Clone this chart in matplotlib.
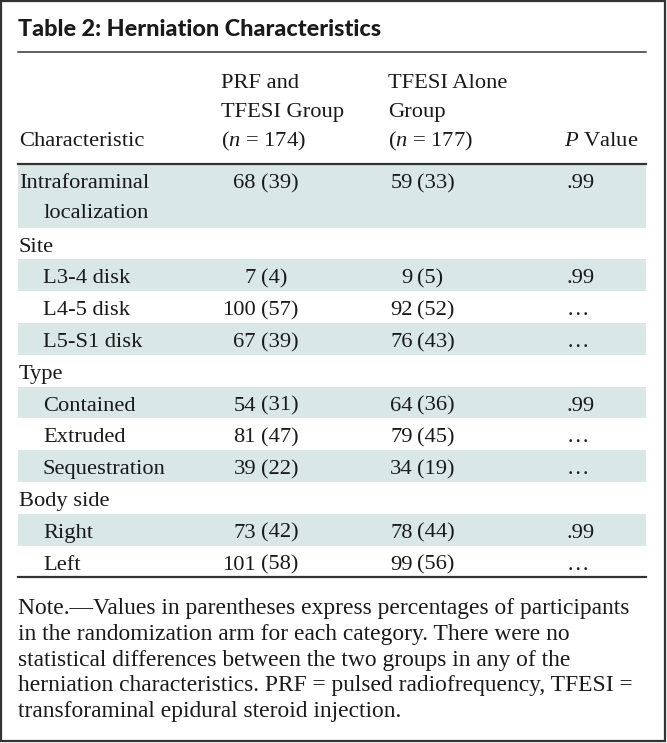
import matplotlib
matplotlib.use("Agg")
import matplotlib.pyplot as plt
from matplotlib.patches import Rectangle

plt.rcParams["mathtext.fontset"] = "custom"
plt.rcParams["mathtext.rm"] = "Liberation Serif"
plt.rcParams["mathtext.it"] = "Liberation Serif:italic"

W, H = 667, 743
SERIF = "Liberation Serif"

title = "Table 2: Herniation Characteristics"
col_headers = [["Characteristic"],
               ["PRF and", "TFESI Group", "($n$ = 174)"],
               ["TFESI Alone", "Group", "($n$ = 177)"],
               ["$P$ Value"]]

labels = [["Intraforaminal", "localization"], ["Site"], ["L3-4 disk"],
          ["L4-5 disk"], ["L5-S1 disk"], ["Type"], ["Contained"], ["Extruded"],
          ["Sequestration"], ["Body side"], ["Right"], ["Left"]]
indent = [0, 0, 1, 1, 1, 0, 1, 1, 1, 0, 1, 1]
prf_n = [68, None, 7, 100, 67, None, 54, 81, 39, None, 73, 101]
prf_pct = [39, None, 4, 57, 39, None, 31, 47, 22, None, 42, 58]
tfesi_n = [59, None, 9, 92, 76, None, 64, 79, 34, None, 78, 99]
tfesi_pct = [33, None, 5, 52, 43, None, 36, 45, 19, None, 44, 56]
p_values = [".99", "", ".99", "\u2026", "\u2026", "", ".99", "\u2026", "\u2026",
            "", ".99", "\u2026"]

note = ["Note.\u2014Values in parentheses express percentages of participants",
        "in the randomization arm for each category. There were no",
        "statistical differences between the two groups in any of the",
        "herniation characteristics. PRF = pulsed radiofrequency, TFESI =",
        "transforaminal epidural steroid injection."]

BAND = "#d9e7e7"
INK = "#1a1a1a"


def pt(px):
    return px * 72 / 100


fig = plt.figure(figsize=(W / 100, H / 100), dpi=100)
ax = fig.add_axes([0, 0, 1, 1])
ax.set_xlim(0, W)
ax.set_ylim(H, 0)
ax.axis("off")

# outer frame
ax.add_patch(Rectangle((1, 1), W - 3, H - 3, fill=False, ec="#333333", lw=1.6))

L, R = 18, 646
fs = pt(22.5)

ax.text(L, 36, title, fontsize=pt(23.4), fontweight="black", family="Lato",
        color=INK, va="baseline")
ax.plot([L, R], [52, 52], color="#333333", lw=1.1)

# header, one text per line so spacing matches
col_x = [L + 1, 221, 388, 564]
hb = 146
for x, lines in zip(col_x, col_headers):
    for k, s in enumerate(reversed(lines)):
        ax.text(x, hb - k * 29, s, fontsize=fs, family=SERIF, color=INK,
                va="baseline")
ax.plot([L, R], [164, 164], color="#333333", lw=1.6)

# body rows
y = 164
for i, lines in enumerate(labels):
    h = 31.8 * len(lines)
    if i % 2 == 0:
        ax.add_patch(Rectangle((L, y), R - L, h, fc=BAND, ec="none", zorder=0))
    base = y + 24
    x0 = L + 1 + indent[i] * 24
    for k, s in enumerate(lines):
        # wrapped continuation lines hang at the sub-row indent
        xk = x0 if k == 0 else L + 1 + 24
        ax.text(xk, base + k * 30, s, fontsize=fs, family=SERIF, color=INK,
                va="baseline")
    if prf_n[i] is not None:
        ax.text(256, base, str(prf_n[i]), fontsize=fs, family=SERIF, color=INK,
                va="baseline", ha="right")
        ax.text(261, base, f"({prf_pct[i]})", fontsize=fs, family=SERIF,
                color=INK, va="baseline")
        ax.text(413, base, str(tfesi_n[i]), fontsize=fs, family=SERIF,
                color=INK, va="baseline", ha="right")
        ax.text(417, base, f"({tfesi_pct[i]})", fontsize=fs, family=SERIF,
                color=INK, va="baseline")
    if p_values[i]:
        ax.text(567, base, p_values[i], fontsize=fs, family=SERIF, color=INK,
                va="baseline")
    y += h

ax.plot([L, R], [y, y], color="#333333", lw=1.6)

for k, s in enumerate(note):
    ax.text(L, 614 + k * 25.8, s, fontsize=pt(23.5), family=SERIF, color=INK,
            va="baseline")

fig.savefig("out.png", dpi=100)
